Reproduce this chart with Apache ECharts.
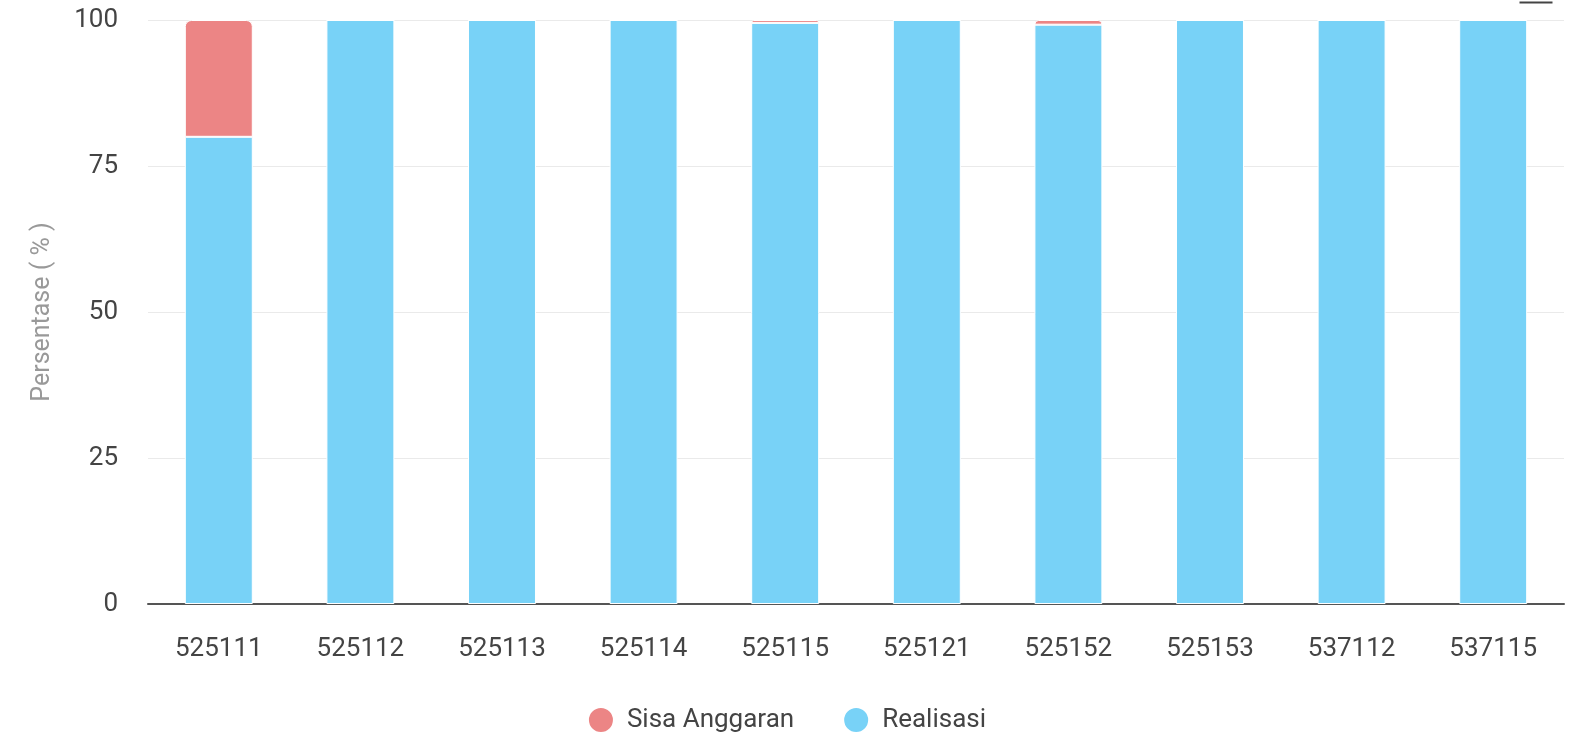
<!DOCTYPE html>
<html>
<head>
<meta charset="utf-8">
<script src="https://cdn.jsdelivr.net/npm/echarts@6/dist/echarts.min.js"></script>
<style>
  html, body { margin: 0; padding: 0; background: #fff; }
  #chart { width: 1573px; height: 738px; }
</style>
</head>
<body>
<div id="chart"></div>
<script>
// kode akun dan persentase
var categories = ['525111', '525112', '525113', '525114', '525115', '525121', '525152', '525153', '537112', '537115']
var realisasi = [80.0, 100, 100, 100, 99.5, 100, 99.2, 100, 100, 100]
var sisaAnggaran = [20.0, 0, 0, 0, 0.5, 0, 0.8, 0, 0, 0]
var yTicks = [0, 25, 50, 75, 100]

var myChart = echarts.init(document.getElementById('chart'))
var options = {
    animation: false,
    textStyle: { fontFamily: 'Roboto' },
    color: ['#EC8585', '#78D2F7'],
    // sisa ikon toolbox yang terpotong di pojok kanan atas
    graphic: [
        {
            type: 'line',
            right: 18,
            top: 0,
            shape: { x1: 0, y1: 1, x2: 33, y2: 1 },
            style: { stroke: '#444', lineWidth: 2 }
        }
    ],
    legend: {
        bottom: -1,
        left: 'center',
        icon: 'circle',
        itemWidth: 26,
        itemHeight: 26,
        itemGap: 48,
        textStyle: { fontSize: 26, color: '#444', padding: [0, 0, 0, 8] },
        data: ['Sisa Anggaran', 'Realisasi']
    },
    grid: { left: 148, right: 9, top: 20, bottom: 134 },
    xAxis: {
        type: 'category',
        data: categories,
        axisTick: { show: false },
        axisLine: { lineStyle: { color: '#555', width: 2 } },
        axisLabel: { fontSize: 26, color: '#444', margin: 32 }
    },
    yAxis: {
        type: 'value',
        min: yTicks[0],
        max: yTicks[yTicks.length - 1],
        interval: 25,
        name: 'Persentase ( % )',
        nameLocation: 'middle',
        nameGap: 93,
        nameTextStyle: { fontSize: 25, color: '#999' },
        axisLabel: { fontSize: 26, color: '#444', margin: 30 },
        splitLine: { lineStyle: { color: '#eaeaea', width: 1 } }
    },
    series: [
        {
            name: 'Realisasi',
            type: 'bar',
            stack: 'total',
            barWidth: '48%',
            data: realisasi,
            itemStyle: { color: '#78D2F7', borderColor: '#fff', borderWidth: 1 }
        },
        {
            name: 'Sisa Anggaran',
            type: 'bar',
            stack: 'total',
            data: sisaAnggaran,
            itemStyle: { color: '#EC8585', borderRadius: [6, 6, 0, 0], borderColor: '#fff', borderWidth: 1 }
        }
    ]
}
myChart.setOption(options)
</script>
</body>
</html>
